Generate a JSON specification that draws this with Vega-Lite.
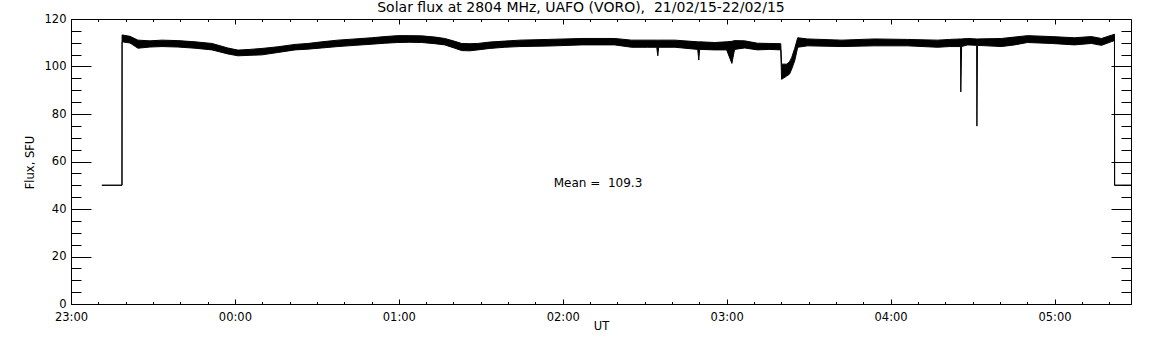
{
  "$schema": "https://vega.github.io/schema/vega-lite/v6.json",
  "width": 1060,
  "height": 285,
  "autosize": {"type": "none"},
  "padding": {"left": 71, "top": 19, "right": 21, "bottom": 41},
  "background": "white",
  "title": {"text": "Solar flux at 2804 MHz, UAFO (VORO), \u00a021/02/15-22/02/15", "anchor": "middle", "dx": -20, "dy": 18, "offset": 5, "baseline": "alphabetic", "font": "DejaVu Sans", "fontSize": 14, "fontWeight": "normal", "color": "black"},
  "config": {
    "view": {"stroke": "black", "strokeWidth": 1},
    "axis": {"domain": false, "grid": false, "tickColor": "black", "tickWidth": 1, "labelColor": "black", "titleColor": "black", "labelFont": "DejaVu Sans", "titleFont": "DejaVu Sans", "labelFontSize": 11.5, "titleFontSize": 11.5, "titleFontWeight": "normal", "labelFlush": false, "labelOverlap": false, "labelBound": false}
  },
  "data": {"values": [
    {"t": 11.3, "lo": 50, "hi": 50},
    {"t": 18.66, "lo": 50, "hi": 50},
    {"t": 18.7, "lo": 110.4, "hi": 113.3},
    {"t": 21.6, "lo": 109.9, "hi": 112.7},
    {"t": 24.5, "lo": 107.7, "hi": 111.1},
    {"t": 28.9, "lo": 108.2, "hi": 110.8},
    {"t": 33.3, "lo": 108.4, "hi": 111.1},
    {"t": 39.1, "lo": 108.2, "hi": 110.9},
    {"t": 45.4, "lo": 107.7, "hi": 110.4},
    {"t": 51.6, "lo": 107.0, "hi": 109.7},
    {"t": 57.4, "lo": 105.3, "hi": 107.8},
    {"t": 61.1, "lo": 104.5, "hi": 106.9},
    {"t": 65.5, "lo": 104.7, "hi": 107.2},
    {"t": 69.9, "lo": 104.9, "hi": 107.6},
    {"t": 75.7, "lo": 105.9, "hi": 108.3},
    {"t": 82.0, "lo": 107.0, "hi": 109.3},
    {"t": 86.7, "lo": 107.3, "hi": 109.7},
    {"t": 91.8, "lo": 107.8, "hi": 110.4},
    {"t": 97.7, "lo": 108.4, "hi": 111.1},
    {"t": 103.9, "lo": 108.9, "hi": 111.6},
    {"t": 110.1, "lo": 109.4, "hi": 112.1},
    {"t": 114.9, "lo": 109.8, "hi": 112.6},
    {"t": 119.6, "lo": 110.1, "hi": 113.0},
    {"t": 124.0, "lo": 110.2, "hi": 113.0},
    {"t": 128.4, "lo": 110.1, "hi": 112.9},
    {"t": 133.2, "lo": 109.6, "hi": 112.4},
    {"t": 136.8, "lo": 109.1, "hi": 111.8},
    {"t": 140.5, "lo": 107.7, "hi": 110.6},
    {"t": 143.0, "lo": 106.7, "hi": 109.7},
    {"t": 146.0, "lo": 106.6, "hi": 109.6},
    {"t": 148.9, "lo": 107.0, "hi": 109.7},
    {"t": 153.3, "lo": 107.6, "hi": 110.3},
    {"t": 158.8, "lo": 108.1, "hi": 110.7},
    {"t": 164.3, "lo": 108.4, "hi": 111.1},
    {"t": 174.5, "lo": 108.6, "hi": 111.4},
    {"t": 187.0, "lo": 109.1, "hi": 111.8},
    {"t": 199.0, "lo": 109.1, "hi": 111.8},
    {"t": 205.2, "lo": 108.1, "hi": 111.1},
    {"t": 211.1, "lo": 108.1, "hi": 111.1},
    {"t": 214.4, "lo": 108.1, "hi": 111.1},
    {"t": 214.8, "lo": 104.5, "hi": 111.1},
    {"t": 215.1, "lo": 108.1, "hi": 111.1},
    {"t": 221.0, "lo": 108.1, "hi": 111.1},
    {"t": 229.4, "lo": 107.2, "hi": 110.4},
    {"t": 229.8, "lo": 102.7, "hi": 110.4},
    {"t": 230.1, "lo": 107.2, "hi": 110.4},
    {"t": 235.6, "lo": 107.0, "hi": 110.1},
    {"t": 240.0, "lo": 107.0, "hi": 110.4},
    {"t": 241.9, "lo": 101.3, "hi": 110.6},
    {"t": 242.9, "lo": 107.2, "hi": 110.9},
    {"t": 246.6, "lo": 107.8, "hi": 110.8},
    {"t": 251.3, "lo": 107.0, "hi": 109.8},
    {"t": 255.7, "lo": 107.2, "hi": 109.7},
    {"t": 259.8, "lo": 107.0, "hi": 109.6},
    {"t": 260.1, "lo": 94.6, "hi": 101.0},
    {"t": 262.0, "lo": 96.0, "hi": 101.0},
    {"t": 263.0, "lo": 96.8, "hi": 102.0},
    {"t": 263.8, "lo": 98.9, "hi": 103.8},
    {"t": 264.9, "lo": 102.4, "hi": 107.6},
    {"t": 266.0, "lo": 108.1, "hi": 112.1},
    {"t": 269.6, "lo": 108.7, "hi": 111.6},
    {"t": 282.1, "lo": 108.4, "hi": 111.1},
    {"t": 294.1, "lo": 108.7, "hi": 111.6},
    {"t": 306.2, "lo": 108.7, "hi": 111.4},
    {"t": 317.2, "lo": 108.1, "hi": 111.1},
    {"t": 321.6, "lo": 108.4, "hi": 111.4},
    {"t": 325.6, "lo": 108.4, "hi": 111.6},
    {"t": 325.7, "lo": 89.3, "hi": 111.6},
    {"t": 326.0, "lo": 108.4, "hi": 111.6},
    {"t": 328.2, "lo": 109.1, "hi": 111.8},
    {"t": 331.5, "lo": 108.9, "hi": 111.6},
    {"t": 331.6, "lo": 74.9, "hi": 111.6},
    {"t": 331.8, "lo": 108.9, "hi": 111.6},
    {"t": 340.6, "lo": 108.4, "hi": 111.8},
    {"t": 345.4, "lo": 109.1, "hi": 112.4},
    {"t": 350.1, "lo": 110.1, "hi": 113.0},
    {"t": 358.9, "lo": 109.7, "hi": 112.6},
    {"t": 367.3, "lo": 109.1, "hi": 112.1},
    {"t": 373.5, "lo": 109.7, "hi": 112.6},
    {"t": 377.2, "lo": 108.9, "hi": 111.8},
    {"t": 380.9, "lo": 110.5, "hi": 113.2},
    {"t": 381.95, "lo": 110.9, "hi": 113.6},
    {"t": 382.0, "lo": 50, "hi": 50},
    {"t": 388, "lo": 50, "hi": 50}
  ]},
  "layer": [
    {
      "mark": {"type": "area", "fill": "black", "stroke": "black", "strokeWidth": 1, "interpolate": "linear"},
      "encoding": {
        "x": {"field": "t", "type": "quantitative", "scale": {"domain": [0, 388], "nice": false, "zero": false},
          "axis": {"orient": "bottom", "values": [0, 60, 120, 180, 240, 300, 360], "tickSize": -5, "labelPadding": 12, "labelExpr": "datum.value == 0 ? '23:00' : '0' + (datum.value / 60 - 1) + ':00'", "title": "UT", "titleX": 530, "titleY": 22, "titleBaseline": "middle", "titleAlign": "center"}},
        "y": {"field": "lo", "type": "quantitative", "scale": {"domain": [0, 120], "nice": false, "zero": true},
          "axis": {"orient": "left", "values": [0, 20, 40, 60, 80, 100, 120], "tickSize": -20, "labelPadding": 25, "labelBaseline": "middle", "title": "Flux, SFU", "titleX": -41, "titleY": 143, "titleAngle": -90, "titleBaseline": "middle", "titleAlign": "center"}},
        "y2": {"field": "hi"}
      }
    },
    {
      "data": {"values": [{"t": 176.7, "v": 51, "label": "Mean =\u00a0 109.3"}]},
      "mark": {"type": "text", "align": "left", "baseline": "middle", "font": "DejaVu Sans", "fontSize": 12, "color": "black"},
      "encoding": {
        "x": {"field": "t", "type": "quantitative", "scale": {"domain": [0, 388], "nice": false, "zero": false},
          "axis": {"orient": "bottom", "values": [0, 10, 20, 30, 40, 50, 60, 70, 80, 90, 100, 110, 120, 130, 140, 150, 160, 170, 180, 190, 200, 210, 220, 230, 240, 250, 260, 270, 280, 290, 300, 310, 320, 330, 340, 350, 360, 370, 380], "tickSize": -2.5, "labels": false, "title": null}},
        "y": {"field": "v", "type": "quantitative", "scale": {"domain": [0, 120], "nice": false, "zero": true},
          "axis": {"orient": "left", "values": [5, 10, 15, 25, 30, 35, 45, 50, 55, 65, 70, 75, 85, 90, 95, 105, 110, 115], "tickSize": -10, "labels": false, "title": null}},
        "text": {"field": "label"}
      }
    },
    {
      "mark": {"type": "point", "opacity": 0},
      "encoding": {
        "x": {"field": "t", "type": "quantitative", "scale": {"domain": [0, 388], "nice": false, "zero": false},
          "axis": {"orient": "top", "values": [0, 60, 120, 180, 240, 300, 360], "tickSize": -5, "labels": false, "title": null}},
        "y": {"field": "hi", "type": "quantitative", "scale": {"domain": [0, 120], "nice": false, "zero": true},
          "axis": {"orient": "right", "values": [0, 20, 40, 60, 80, 100, 120], "tickSize": -20, "labels": false, "title": null}}
      }
    },
    {
      "mark": {"type": "point", "opacity": 0},
      "encoding": {
        "x": {"field": "t", "type": "quantitative", "scale": {"domain": [0, 388], "nice": false, "zero": false},
          "axis": {"orient": "top", "values": [0, 10, 20, 30, 40, 50, 60, 70, 80, 90, 100, 110, 120, 130, 140, 150, 160, 170, 180, 190, 200, 210, 220, 230, 240, 250, 260, 270, 280, 290, 300, 310, 320, 330, 340, 350, 360, 370, 380], "tickSize": -2.5, "labels": false, "title": null}},
        "y": {"field": "hi", "type": "quantitative", "scale": {"domain": [0, 120], "nice": false, "zero": true},
          "axis": {"orient": "right", "values": [5, 10, 15, 25, 30, 35, 45, 50, 55, 65, 70, 75, 85, 90, 95, 105, 110, 115], "tickSize": -10, "labels": false, "title": null}}
      }
    }
  ],
  "resolve": {"axis": {"x": "independent", "y": "independent"}}
}
